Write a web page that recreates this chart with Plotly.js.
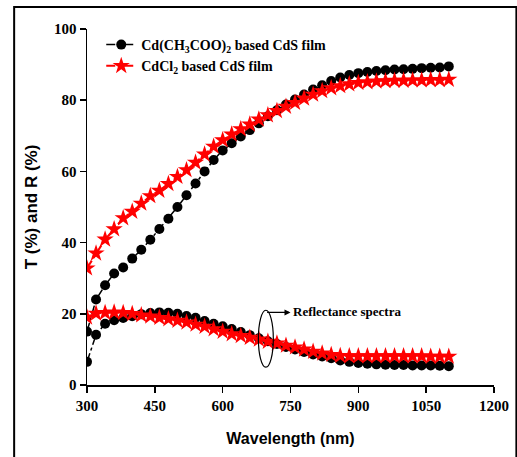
<!DOCTYPE html>
<html>
<head>
<meta charset="utf-8">
<script src="https://cdn.plot.ly/plotly-3.0.1.min.js"></script>
<style>
html,body{margin:0;padding:0;background:#fff;}
#chart{width:517px;height:457px;}
</style>
</head>
<body>
<div id="chart"></div>
<script>
// Wavelength grid (nm)
const wavelength = [300,320,340,360,380,400,420,440,460,480,500,520,540,560,580,600,620,640,660,680,700,720,740,760,780,800,820,840,860,880,900,920,940,960,980,1000,1020,1040,1060,1080,1100];

// Transmittance (%)
const T_acetate = [15,24,28,31.3,33,35.5,38,40.8,43.8,46.7,50,53.3,56.6,60,63.2,65.9,67.9,69.8,71.6,73.5,75.5,77.2,78.8,80.2,81.6,83,84.2,85.4,86.4,87.1,87.6,87.9,88.2,88.4,88.6,88.7,88.8,89,89.1,89.2,89.5];
const T_chloride = [32.8,37,40.9,43.8,46.9,48.7,51,53.1,54.6,56.5,58.5,60.4,62.5,64.8,67,68.8,70.4,71.9,73.2,74.6,75.8,77,78.2,79.3,80.5,81.6,82.6,83.4,84,84.5,84.9,85.1,85.3,85.4,85.5,85.5,85.6,85.6,85.7,85.7,85.8];

// Reflectance (%)
const R_acetate = [6.5,14.1,17.2,18.2,18.8,19.3,19.9,20.2,20.4,20.3,20,19.4,18.9,18,17.2,16.5,15.7,14.9,14,13.1,12.3,11.5,10.7,10,9.3,8.6,8,7.5,6.9,6.5,6.2,6,5.8,5.7,5.6,5.6,5.5,5.5,5.5,5.4,5.3];
const R_chloride = [19,20.1,20.3,20.4,20.3,20,19.6,19.3,18.9,18.5,18.1,17.6,17,16.4,15.7,15,14.3,13.8,13.3,12.8,12.2,11.7,11.1,10.6,10,9.4,8.9,8.5,8.2,8.1,8.1,8.1,8.1,8.1,8.1,8.1,8.1,8.1,8.0,8.0,8.0];

const seriesNames = ["Cd(CH<sub>3</sub>COO)<sub>2</sub> based CdS film", "CdCl<sub>2</sub> based CdS film"];
const xTicks = [300,450,600,750,900,1050,1200];
const yTicks = [0,20,40,60,80,100];

const blackMarker = {symbol:'circle', size:10, color:'#000'};
const redMarker = {symbol:'star', size:13, color:'#ff0000', line:{width:0}};

const traces = [
  {x:wavelength, y:T_acetate, mode:'lines+markers', name:seriesNames[0], line:{color:'#000', width:1.5, dash:'dashdot'}, marker:blackMarker, legendgroup:'a'},
  {x:wavelength, y:T_chloride, mode:'lines+markers', name:seriesNames[1], line:{color:'#ff0000', width:2, dash:'dashdot'}, marker:redMarker, legendgroup:'b'},
  {x:wavelength, y:R_acetate, mode:'lines+markers', name:seriesNames[0], showlegend:false, line:{color:'#000', width:1.5, dash:'dashdot'}, marker:blackMarker, legendgroup:'a'},
  {x:wavelength, y:R_chloride, mode:'lines+markers', name:seriesNames[1], showlegend:false, line:{color:'#ff0000', width:2, dash:'dashdot'}, marker:redMarker, legendgroup:'b'}
];

const serif = 'Liberation Serif, Times New Roman, serif';
const sans = 'Liberation Sans, Arial, sans-serif';

const layout = {
  width:517, height:457,
  margin:{l:87, r:23, t:29, b:72},
  paper_bgcolor:'#fff', plot_bgcolor:'#fff',
  showlegend:true,
  legend:{x:0.035, y:1.0, xanchor:'left', yanchor:'top', bgcolor:'rgba(0,0,0,0)',
          font:{family:serif, size:14, color:'#000', weight:'bold'}, tracegroupgap:0, itemwidth:30},
  xaxis:{range:[300,1200], tickvals:xTicks, ticktext:xTicks.map(String), showgrid:false, zeroline:false,
         showline:true, linecolor:'#000', linewidth:1.5, ticks:'outside', ticklen:6, tickwidth:1.5, tickcolor:'#000',
         tickfont:{family:serif, size:15, color:'#000', weight:'bold'},
         title:{text:'Wavelength (nm)', font:{family:sans, size:16, color:'#000', weight:'bold'}, standoff:20}},
  yaxis:{range:[0,100], tickvals:yTicks, ticktext:yTicks.map(String), showgrid:false, zeroline:false,
         showline:true, linecolor:'#000', linewidth:1.5, ticks:'outside', ticklen:6, tickwidth:1.5, tickcolor:'#000',
         tickfont:{family:serif, size:15, color:'#000', weight:'bold'},
         title:{text:'T (%) and R (%)', font:{family:sans, size:17, color:'#000', weight:'bold'}, standoff:12}},
  shapes:[
    {type:'circle', xref:'x', yref:'y', x0:679, x1:712, y0:5, y1:21, line:{color:'#000', width:1.2}},
    {type:'rect', xref:'paper', yref:'paper', x0:-0.179, x1:1.055, y0:-0.35, y1:1.062, line:{color:'#000', width:2}}
  ],
  annotations:[
    {x:750, y:20.4, xref:'x', yref:'y', ax:695, ay:20.4, axref:'x', ayref:'y', text:'', showarrow:true,
     arrowhead:2, arrowsize:1, arrowwidth:1.2, arrowcolor:'#000'},
    {x:752, y:20.6, xref:'x', yref:'y', text:'Reflectance spectra', showarrow:false, xanchor:'left', yanchor:'middle',
     font:{family:serif, size:13, color:'#000', weight:'bold'}}
  ]
};

Plotly.newPlot('chart', traces, layout, {displayModeBar:false, staticPlot:true});
</script>
</body>
</html>
